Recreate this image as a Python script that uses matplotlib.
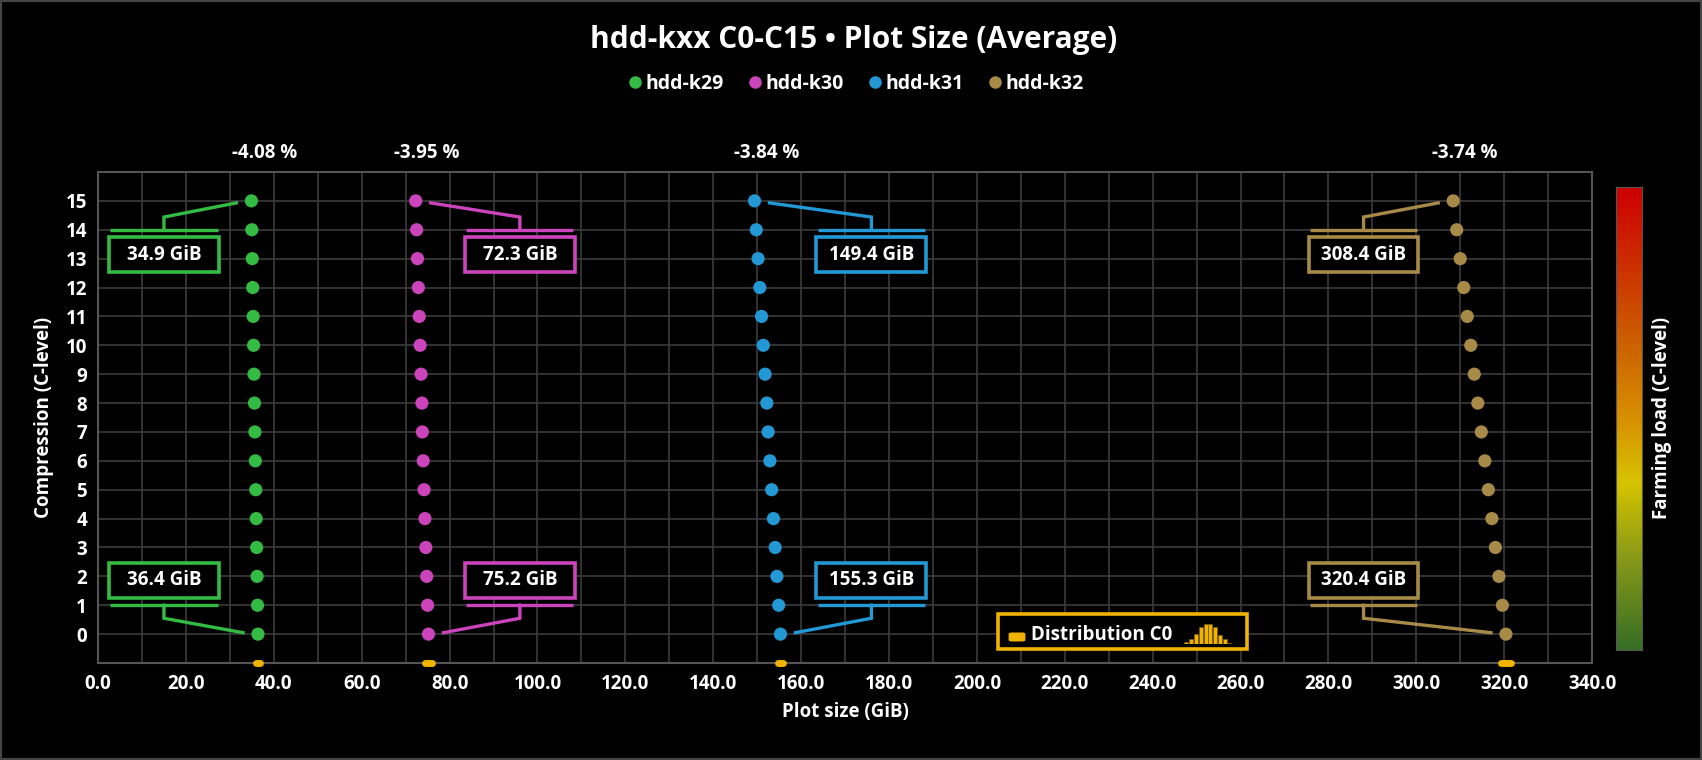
import numpy as np
import matplotlib
matplotlib.use('Agg')
import matplotlib.pyplot as plt
from matplotlib.lines import Line2D
from matplotlib.patches import Rectangle, FancyBboxPatch
from matplotlib.colors import LinearSegmentedColormap

plt.rcParams['font.family'] = ['Open Sans', 'DejaVu Sans']

# data
levels = np.arange(16)
series = ['hdd-k29', 'hdd-k30', 'hdd-k31', 'hdd-k32']
k29 = [36.4, 36.3, 36.2, 36.1, 36.0, 35.9, 35.8, 35.7, 35.6, 35.5, 35.4, 35.3, 35.2, 35.1, 35.0, 34.9]
k30 = [75.2, 75.0, 74.8, 74.6, 74.4, 74.2, 74.0, 73.8, 73.7, 73.5, 73.3, 73.1, 72.9, 72.7, 72.5, 72.3]
k31 = [155.3, 154.9, 154.5, 154.1, 153.7, 153.3, 152.9, 152.5, 152.2, 151.8, 151.4, 151.0, 150.6, 150.2, 149.8, 149.4]
k32 = [320.4, 319.6, 318.8, 318.0, 317.2, 316.4, 315.6, 314.8, 314.0, 313.2, 312.4, 311.6, 310.8, 310.0, 309.2, 308.4]
values = [k29, k30, k31, k32]
pct_labels = ['-4.08 %', '-3.95 %', '-3.84 %', '-3.74 %']
dist_spread = [2.3, 3.1, 2.9, 3.9]   # width of C0 distribution (GiB)
mini_hist = [5, 13, 26, 45, 53, 53, 46, 25, 13, 3]

colors = ['#33bb44', '#cc44bb', '#2299d4', '#a88a48']
dist_color = '#f0b400'
grid_color = '#3c3c3c'

# layout: callout box centres (x), percentage label x, side of the callout
box_x = [15.0, 96.0, 176.0, 288.0]
pct_x = [38.0, 74.9, 152.2, 311.0]
side = [-1, 1, 1, -1]

FS = 13.5
W = 'bold'

fig = plt.figure(figsize=(17.02, 7.6), dpi=100, facecolor='black')
ax = fig.add_axes([0.0576, 0.1276, 0.8778, 0.6461])
ax.set_facecolor('black')
ax.set_xlim(0, 340)
ax.set_ylim(-1, 16)
ax.set_xticks(np.arange(0, 341, 20))
ax.set_xticks(np.arange(0, 341, 10), minor=True)
ax.set_xticklabels(['%.1f' % v for v in np.arange(0, 341, 20)])
ax.set_yticks(np.arange(-1, 17))
ax.set_yticklabels(['' if v in (-1, 16) else str(v) for v in range(-1, 17)])
ax.grid(True, which='both', color=grid_color, lw=1.2)
ax.tick_params(which='both', length=0, colors='white', labelsize=FS, pad=8)
for lab in ax.get_xticklabels() + ax.get_yticklabels():
    lab.set_fontweight(W)
for sp in ax.spines.values():
    sp.set_color('#555555')
    sp.set_linewidth(1.5)
ax.set_axisbelow(True)
ax.set_xlabel('Plot size (GiB)', color='white', fontsize=FS, fontweight=W, labelpad=6)
ax.set_ylabel('Compression (C-level)', color='white', fontsize=FS, fontweight=W, labelpad=8)

bw, bh = 25.0, 1.22
for i, vals in enumerate(values):
    c = colors[i]
    ax.scatter(vals, levels, s=90, color=c, zorder=4, edgecolors='none')
    # C0 distribution marker
    half = dist_spread[i] / 2 - 0.8
    ax.plot([vals[0] - half, vals[0] + half], [-1, -1], color=dist_color, lw=5,
            solid_capstyle='round', zorder=5, clip_on=False)
    # percentage label
    ax.text(pct_x[i], 16.66, pct_labels[i], color='white', fontsize=FS, fontweight=W,
            ha='center', va='center', clip_on=False)
    # callouts: top (C15) and bottom (C0)
    for lvl, v, yline, ystub, ybox in [(15, vals[15], 14, 14.44, 13.14), (0, vals[0], 1, 0.55, 1.86)]:
        ax.plot([box_x[i] - bw / 2 + 0.3, box_x[i] + bw / 2 - 0.3], [yline, yline], color=c, lw=2.4,
                solid_capstyle='butt', zorder=3)
        xend = v + side[i] * 3.4
        yend = lvl - 0.07 if lvl == 15 else lvl + 0.05
        ax.plot([box_x[i], box_x[i], xend], [yline, ystub, yend], color=c, lw=2.4,
                solid_joinstyle='miter', zorder=3)
        ax.add_patch(Rectangle((box_x[i] - bw / 2, ybox - bh / 2), bw, bh, facecolor='black',
                               edgecolor=c, lw=2.6, zorder=3))
        ax.text(box_x[i], ybox, '%.1f GiB' % v, color='white', fontsize=FS, fontweight=W,
                ha='center', va='center', zorder=4)

# distribution legend box
ax.add_patch(Rectangle((204.8, -0.52), 56.6, 1.22, facecolor='black', edgecolor=dist_color,
                       lw=2.6, zorder=3))
fig.add_artist(FancyBboxPatch((1012 / 1702, 1 - 640 / 760), 10 / 1702, 6 / 760,
                              boxstyle='round,pad=0.002', facecolor=dist_color, edgecolor='none'))
fig.text(1031 / 1702, 1 - 635 / 760, 'Distribution C0', color='white', fontsize=FS,
         fontweight=W, ha='left', va='center')
hax = fig.add_axes([1184 / 1702, 1 - 644 / 760, 48 / 1702, 20 / 760])
hax.bar(np.arange(len(mini_hist)), mini_hist, width=0.85, color=dist_color, edgecolor='#7a5a00', lw=0.6)
hax.set_xlim(-0.5, len(mini_hist) - 0.5)
hax.set_ylim(0, max(mini_hist))
hax.axis('off')

# colour bar (farming load)
cax = fig.add_axes([1616 / 1702, 1 - 650 / 760, 26 / 1702, 463 / 760])
cmap = LinearSegmentedColormap.from_list('load', [
    (0.0, '#356e25'), (0.2, '#8a9a18'), (0.36, '#d6c400'), (0.5, '#d89000'),
    (0.65, '#cc6400'), (0.82, '#cc3300'), (1.0, '#cc0000')])
cax.imshow(np.linspace(0, 1, 256).reshape(-1, 1), aspect='auto', cmap=cmap, origin='lower')
cax.set_xticks([])
cax.set_yticks([])
for sp in cax.spines.values():
    sp.set_color('#555555')
fig.text(1662 / 1702, 1 - 418 / 760, 'Farming load (C-level)', color='white', fontsize=FS,
         fontweight=W, rotation=90, ha='center', va='center')

# title and legend
fig.text(0.5015, 1 - 40 / 760, 'hdd-kxx C0-C15 \u2022 Plot Size (Average)', color='white', fontsize=21.5,
         fontweight='bold', ha='center', va='center')
handles = [Line2D([], [], ls='none', marker='o', ms=8, color=c, label=s) for c, s in zip(colors, series)]
leg = fig.legend(handles=handles, loc='center', bbox_to_anchor=(0.502, 1 - 84 / 760), ncol=4,
                 frameon=False, handletextpad=0.05, columnspacing=1.1, handlelength=1.0,
                 prop={'size': 14, 'weight': W})
for t in leg.get_texts():
    t.set_color('white')

fig.add_artist(Rectangle((0, 0), 1, 1, transform=fig.transFigure, fill=False,
                         edgecolor='#444444', lw=3))

fig.savefig('out.png', dpi=100, facecolor='black')
